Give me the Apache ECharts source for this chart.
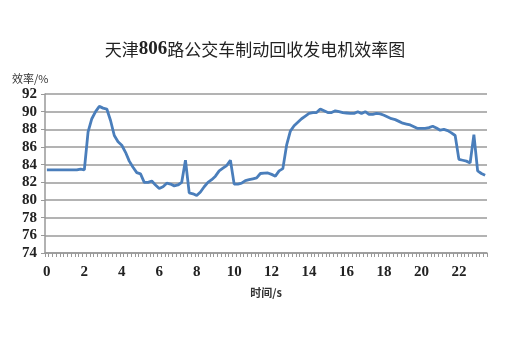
<!DOCTYPE html>
<html>
<head>
<meta charset="utf-8">
<script src="https://cdn.jsdelivr.net/npm/echarts@6/dist/echarts.min.js"></script>
<style>html,body{margin:0;padding:0;background:#fff}#c{width:510px;height:340px}</style>
</head>
<body>
<div id="c"></div>
<script>
// Efficiency (%) sampled every 0.2 s, from t = 0 to t = 23.4 s
var efficiency = [
  83.4, 83.4, 83.4, 83.4, 83.4, 83.4, 83.4, 83.4, 83.4, 83.5,
  83.4, 87.7, 89.2, 90.0, 90.6, 90.4, 90.3, 89.0, 87.3, 86.6,
  86.2, 85.4, 84.4, 83.7, 83.1, 82.95, 82.0, 82.0, 82.15, 81.7,
  81.3, 81.5, 81.9, 81.8, 81.6, 81.7, 82.0, 84.5, 80.8, 80.7,
  80.5, 80.9, 81.5, 82.0, 82.3, 82.7, 83.3, 83.6, 83.9, 84.5,
  81.8, 81.8, 81.9, 82.2, 82.3, 82.4, 82.5, 83.0, 83.05, 83.06,
  82.9, 82.7, 83.3, 83.55, 86.2, 87.8, 88.4, 88.8, 89.2, 89.5,
  89.8, 89.9, 89.9, 90.3, 90.1, 89.9, 89.9, 90.1, 90.0, 89.9,
  89.85, 89.8, 89.8, 90.0, 89.8, 90.0, 89.7, 89.7, 89.8, 89.75,
  89.6, 89.4, 89.2, 89.1, 88.9, 88.7, 88.6, 88.5, 88.3, 88.1,
  88.1, 88.1, 88.2, 88.35, 88.15, 87.9, 88.0, 87.85, 87.6, 87.3,
  84.6, 84.5, 84.4, 84.2, 87.4, 83.3, 83.0, 82.8
];
var timeStep = 0.2;
var categories = efficiency.map(function (_, i) { return (i * timeStep).toFixed(1); });
var xTickLabels = ['0','2','4','6','8','10','12','14','16','18','20','22'];
var yTicks = [74, 76, 78, 80, 82, 84, 86, 88, 90, 92];
var titleText = '天津806路公交车制动回收发电机效率图';
var yName = '效率/%';
var xName = '时间/s';

var chart = echarts.init(document.getElementById('c'), null, {renderer: 'canvas'});
var serif = '"Liberation Serif", "Times New Roman", serif';
chart.setOption({
  animation: false,
  backgroundColor: '#ffffff',
  title: {
    text: '{a|天津}{b|806}{a|路公交车制动回收发电机效率图}',
    left: 'center',
    top: 35,
    textStyle: {
      rich: {
        a: {fontFamily: '"Noto Sans CJK SC"', fontSize: 17, color: '#222', fontWeight: 'normal'},
        b: {fontFamily: serif, fontSize: 19, color: '#222', fontWeight: 'bold'}
      }
    }
  },
  grid: {left: 45, right: 23, top: 94, bottom: 87, containLabel: false},
  xAxis: {
    type: 'category',
    data: categories,
    boundaryGap: true,
    name: xName,
    nameLocation: 'middle',
    nameGap: 34,
    nameTextStyle: {fontFamily: '"Noto Sans CJK SC"', fontSize: 11, color: '#333', fontWeight: 'bold'},
    axisLine: {lineStyle: {color: '#999', width: 1.5}},
    axisTick: {show: true, interval: 0, length: 4, lineStyle: {color: '#999'}},
    axisLabel: {
      interval: 9,
      margin: 12,
      fontFamily: serif, fontSize: 15, fontWeight: 'bold', color: '#222',
      formatter: function (v, idx) { return xTickLabels[Math.round(idx / 10)] || ''; }
    },
    splitLine: {show: false}
  },
  yAxis: {
    type: 'value',
    min: 74, max: 92, interval: 2,
    name: yName,
    nameLocation: 'end',
    nameGap: 10,
    nameTextStyle: {fontFamily: '"Noto Sans CJK SC"', fontSize: 11, color: '#333', align: 'left', padding: [0, 0, 0, -33]},
    axisLine: {show: true, lineStyle: {color: '#999', width: 1.5}},
    axisTick: {show: true, length: 4, lineStyle: {color: '#999'}},
    axisLabel: {
      margin: 8,
      fontFamily: serif, fontSize: 15, fontWeight: 'bold', color: '#222',
      formatter: function (v) { return yTicks.indexOf(v) >= 0 ? String(v) : ''; }
    },
    splitLine: {show: true, lineStyle: {color: '#9a9a9a', width: 1.5}}
  },
  series: [{
    type: 'line',
    data: efficiency,
    symbol: 'none',
    smooth: false,
    lineStyle: {color: '#4a7ebb', width: 2.8},
    itemStyle: {color: '#4a7ebb'}
  }]
});
</script>
</body>
</html>
